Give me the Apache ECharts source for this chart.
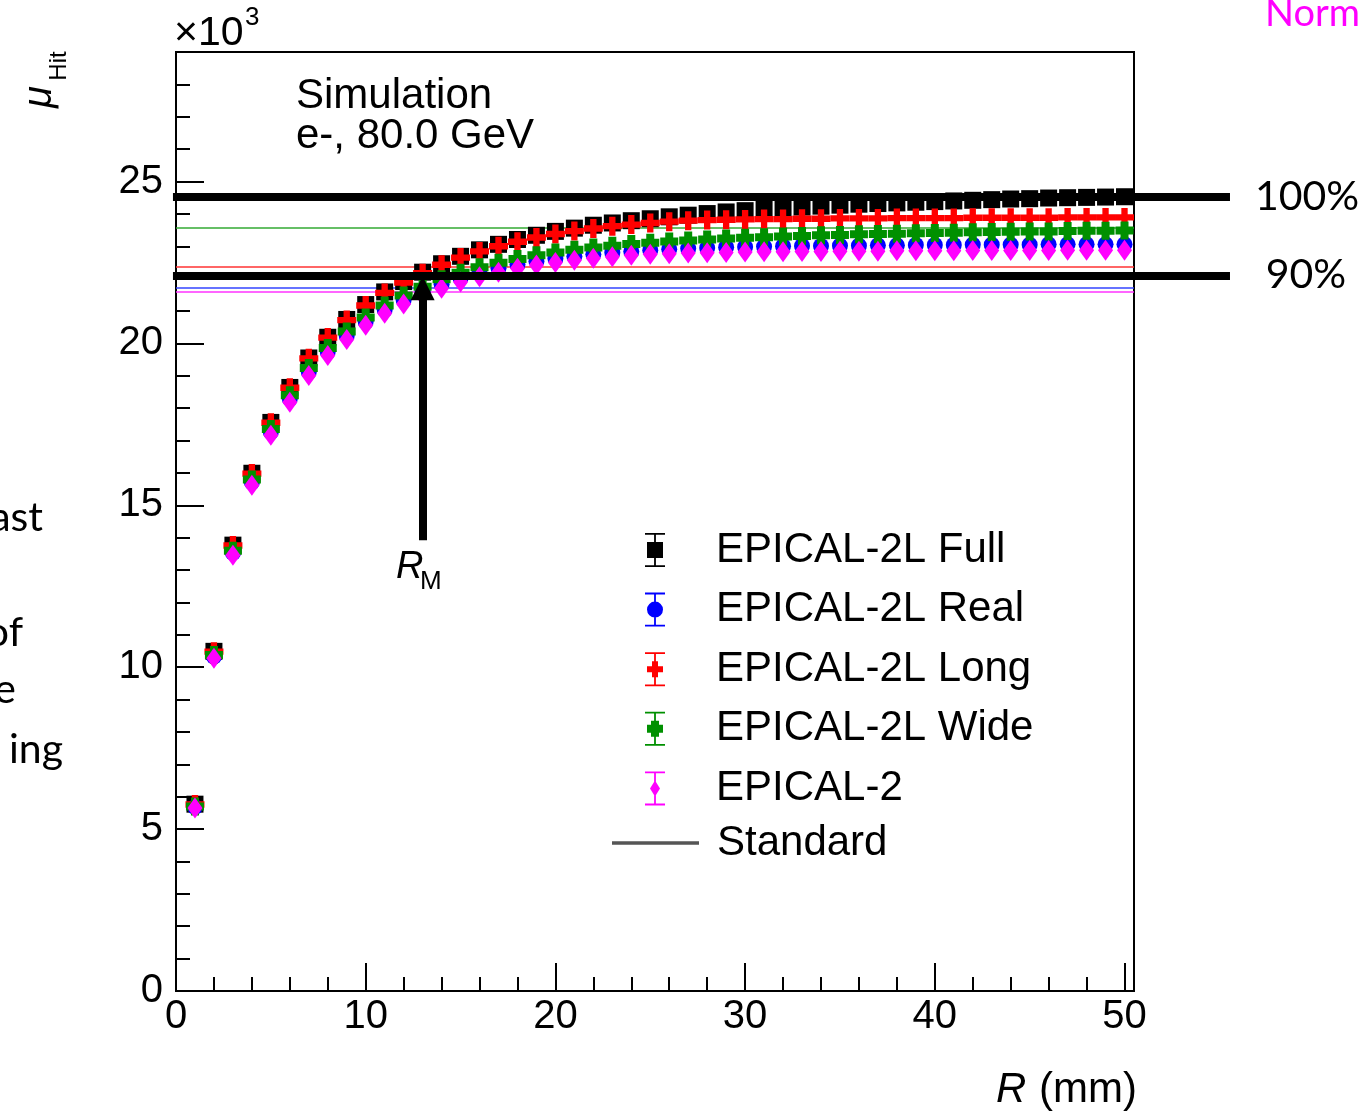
<!DOCTYPE html>
<html>
<head>
<meta charset="utf-8">
<title>mu Hit vs R</title>
<script src="https://cdn.jsdelivr.net/npm/echarts@6/dist/echarts.min.js"></script>
<style>
  html, body { margin: 0; background: #fff; }
  #main { width: 1366px; height: 1112px; }
</style>
</head>
<body>
<div id="main"></div>
<script>
var R = [1, 2, 3, 4, 5, 6, 7, 8, 9, 10, 11, 12, 13, 14, 15, 16, 17, 18, 19, 20,
         21, 22, 23, 24, 25, 26, 27, 28, 29, 30, 31, 32, 33, 34, 35, 36, 37, 38, 39, 40,
         41, 42, 43, 44, 45, 46, 47, 48, 49, 50];

// mu_Hit in units of 10^3
var full = [5.77, 10.49, 13.77, 15.99, 17.56, 18.64, 19.55, 20.19, 20.74, 21.20,
            21.59, 21.91, 22.20, 22.46, 22.69, 22.89, 23.06, 23.21, 23.34, 23.46,
            23.56, 23.65, 23.72, 23.79, 23.85, 23.91, 23.96, 24.01, 24.06, 24.10,
            24.14, 24.18, 24.21, 24.24, 24.27, 24.30, 24.32, 24.34, 24.36, 24.38,
            24.40, 24.42, 24.44, 24.46, 24.47, 24.49, 24.50, 24.51, 24.52, 24.53];
var real = [5.68, 10.33, 13.53, 15.71, 17.26, 18.29, 19.12, 19.74, 20.24, 20.67,
            21.04, 21.34, 21.60, 21.83, 22.02, 22.18, 22.32, 22.44, 22.54, 22.62,
            22.69, 22.75, 22.80, 22.84, 22.88, 22.91, 22.93, 22.95, 22.97, 22.98,
            22.99, 23.00, 23.01, 23.01, 23.02, 23.02, 23.03, 23.03, 23.04, 23.04,
            23.04, 23.05, 23.05, 23.05, 23.05, 23.06, 23.06, 23.06, 23.06, 23.06];
var long = [5.76, 10.48, 13.76, 15.98, 17.55, 18.63, 19.54, 20.18, 20.72, 21.17,
            21.56, 21.88, 22.17, 22.43, 22.65, 22.84, 23.00, 23.14, 23.27, 23.38,
            23.47, 23.55, 23.62, 23.67, 23.72, 23.76, 23.79, 23.81, 23.82, 23.83,
            23.84, 23.84, 23.85, 23.85, 23.86, 23.86, 23.86, 23.87, 23.87, 23.87,
            23.87, 23.88, 23.88, 23.88, 23.88, 23.88, 23.89, 23.89, 23.89, 23.89];
var wide = [5.70, 10.38, 13.60, 15.80, 17.36, 18.40, 19.24, 19.86, 20.37, 20.80,
            21.17, 21.48, 21.75, 21.98, 22.18, 22.35, 22.49, 22.61, 22.72, 22.81,
            22.89, 22.96, 23.02, 23.07, 23.11, 23.15, 23.18, 23.21, 23.24, 23.26,
            23.28, 23.30, 23.32, 23.34, 23.35, 23.37, 23.38, 23.39, 23.40, 23.41,
            23.42, 23.43, 23.44, 23.45, 23.46, 23.46, 23.47, 23.48, 23.48, 23.49];
var epical2 = [5.65, 10.28, 13.46, 15.62, 17.16, 18.18, 19.01, 19.63, 20.12, 20.56,
               20.93, 21.22, 21.47, 21.70, 21.90, 22.06, 22.20, 22.32, 22.42, 22.50,
               22.57, 22.63, 22.68, 22.72, 22.75, 22.77, 22.79, 22.80, 22.81, 22.82,
               22.83, 22.83, 22.84, 22.84, 22.85, 22.85, 22.85, 22.86, 22.86, 22.86,
               22.86, 22.87, 22.87, 22.87, 22.87, 22.87, 22.88, 22.88, 22.88, 22.88];

// thin "Standard" levels: Wide, Long, Real, EPICAL-2
var standardLevels = [23.56, 22.38, 21.73, 21.61];
var standardColors = ['#33aa33', '#ff3333', '#3344ff', '#ff33ff'];
// thick 100% / 90% levels
var refLevels = [24.52, 22.08];
var refLabels = ['100%', '90%'];
// Moliere radius arrow
var rM = 13;
var rMArrow = [13.92, 21.70];

var FONT = 'Liberation Sans, Arial, sans-serif';
var SLIDE = 'Lato, sans-serif';

var myChart = echarts.init(document.getElementById('main'));

function pts(vals) {
    return R.map(function (r, i) { return [r, vals[i]]; });
}

// legend icons: marker with error bar, drawn in a 20x34 box
var bar = 'M0,0H20V1.8H0Z M0,32.2H20V34H0Z M9.1,0H10.9V34H9.1Z ';
var icons = {
    full: 'path://' + bar + 'M2,9H18V25H2Z',
    real: 'path://' + bar + 'M2,17A8,8 0 1,1 18,17A8,8 0 1,1 2,17Z',
    long: 'path://' + bar + 'M7,9H13V14H18V20H13V25H7V20H2V14H7Z',
    wide: 'path://' + bar + 'M6,9H14V13H18V21H14V25H6V21H2V13H6Z',
    epi: 'path://' + bar + 'M10,9L15,17L10,25L5,17Z'
};

var scatterDefs = [
    { name: 'EPICAL-2L Full', data: full, color: '#000000', symbol: 'rect', size: 17 },
    { name: 'EPICAL-2L Real', data: real, color: '#0000ff', symbol: 'circle', size: 16 },
    { name: 'EPICAL-2L Long', data: long, color: '#ff0000',
      symbol: 'path://M6,0H12V6H18V12H12V18H6V12H0V6H6Z', size: 19 },
    { name: 'EPICAL-2L Wide', data: wide, color: '#009000',
      symbol: 'path://M5,0H13V5H18V13H13V18H5V13H0V5H5Z', size: 18 },
    { name: 'EPICAL-2', data: epical2, color: '#ff00ff', symbol: 'diamond', size: [15, 21] }
];

var series = [];

series.push({
    name: 'Standard',
    type: 'lines',
    coordinateSystem: 'cartesian2d',
    silent: true,
    z: 1,
    itemStyle: { color: '#555' },
    lineStyle: { width: 1.5, opacity: 1, color: '#555' },
    data: standardLevels.map(function (v, i) {
        return { coords: [[0, v], [50.5, v]], lineStyle: { color: standardColors[i] } };
    })
});

scatterDefs.forEach(function (d) {
    series.push({
        name: d.name,
        type: 'scatter',
        symbol: d.symbol,
        symbolSize: d.size,
        itemStyle: { color: d.color, opacity: 1 },
        data: pts(d.data),
        z: 2
    });
});

series.push({
    name: 'levels',
    type: 'lines',
    coordinateSystem: 'cartesian2d',
    clip: false,
    silent: true,
    z: 5,
    lineStyle: { color: '#000', width: 8, opacity: 1 },
    data: refLevels.map(function (v) {
        return { coords: [[-0.16, v], [55.56, v]] };
    })
});

series.push({
    name: 'RM',
    type: 'lines',
    coordinateSystem: 'cartesian2d',
    clip: false,
    silent: true,
    z: 6,
    symbol: ['none', 'triangle'],
    symbolSize: 24,
    lineStyle: { color: '#000', width: 8, opacity: 1 },
    data: [{ coords: [[rM, rMArrow[0]], [rM, rMArrow[1]]] }]
});

var tickStyle = { color: '#000', width: 2 };

var option = {
    animation: false,
    backgroundColor: '#fff',
    grid: {
        left: 176,
        right: 232,
        top: 52,
        bottom: 121,
        show: true,
        borderColor: '#000',
        borderWidth: 2,
        backgroundColor: 'transparent',
        outerBoundsMode: 'none'
    },
    xAxis: [{
        type: 'value',
        min: 0,
        max: 50.5,
        interval: 10,
        position: 'bottom',
        axisLine: { lineStyle: tickStyle },
        axisTick: { inside: true, length: 28, lineStyle: tickStyle },
        splitLine: { show: false },
        axisLabel: { showMaxLabel: false, color: '#000', fontSize: 40, fontFamily: FONT, margin: 6 }
    }, {
        type: 'value',
        min: 0,
        max: 50.5,
        interval: 2,
        position: 'bottom',
        axisLine: { show: false },
        axisTick: { inside: true, length: 14, lineStyle: tickStyle },
        splitLine: { show: false },
        axisLabel: { show: false }
    }],
    yAxis: [{
        type: 'value',
        min: 0,
        max: 29,
        interval: 5,
        position: 'left',
        axisLine: { show: true, lineStyle: tickStyle },
        axisTick: { inside: true, length: 28, lineStyle: tickStyle },
        splitLine: { show: false },
        axisLabel: { showMaxLabel: false, color: '#000', fontSize: 40, fontFamily: FONT, margin: 13 }
    }, {
        type: 'value',
        min: 0,
        max: 29,
        interval: 1,
        position: 'left',
        axisLine: { show: false },
        axisTick: { inside: true, length: 14, lineStyle: tickStyle },
        splitLine: { show: false },
        axisLabel: { show: false }
    }],
    legend: [{
        orient: 'vertical',
        left: 645,
        top: 529,
        padding: 0,
        itemWidth: 20,
        itemHeight: 34,
        itemGap: 17.6,
        selectedMode: false,
        textStyle: { color: '#000', fontSize: 42, fontFamily: FONT, lineHeight: 34, padding: [0, 0, 0, 46] },
        data: [
            { name: 'EPICAL-2L Full', icon: icons.full },
            { name: 'EPICAL-2L Real', icon: icons.real },
            { name: 'EPICAL-2L Long', icon: icons.long },
            { name: 'EPICAL-2L Wide', icon: icons.wide },
            { name: 'EPICAL-2', icon: icons.epi }
        ]
    }, {
        orient: 'vertical',
        left: 612,
        top: 822,
        padding: 0,
        itemWidth: 85,
        itemHeight: 1.5,
        selectedMode: false,
        textStyle: { color: '#000', fontSize: 42, fontFamily: FONT, lineHeight: 34, padding: [0, 0, 0, 14] },
        data: [{ name: 'Standard', icon: 'rect', itemStyle: { color: '#555' } }]
    }],
    graphic: [
        { type: 'text', x: 174, y: 34, style: { text: '×10', font: '41px ' + FONT, fill: '#000', align: 'left', verticalAlign: 'middle' } },
        { type: 'text', x: 245, y: 18, style: { text: '3', font: '26px ' + FONT, fill: '#000', align: 'left', verticalAlign: 'middle' } },
        { type: 'text', x: 40, y: 97, rotation: Math.PI / 2, style: { text: 'μ', font: 'italic 40px ' + FONT, fill: '#000', align: 'center', verticalAlign: 'middle' } },
        { type: 'text', x: 59, y: 66, rotation: Math.PI / 2, style: { text: 'Hit', font: '24px ' + FONT, fill: '#000', align: 'center', verticalAlign: 'middle' } },
        { type: 'text', x: 296, y: 96, style: { text: 'Simulation', font: '42px ' + FONT, fill: '#000', align: 'left', verticalAlign: 'middle' } },
        { type: 'text', x: 296, y: 136, style: { text: 'e-, 80.0 GeV', font: '42px ' + FONT, fill: '#000', align: 'left', verticalAlign: 'middle' } },
        { type: 'text', x: 396, y: 567, style: { text: 'R', font: 'italic 38px ' + FONT, fill: '#000', align: 'left', verticalAlign: 'middle' } },
        { type: 'text', x: 420, y: 582, style: { text: 'M', font: '26px ' + FONT, fill: '#000', align: 'left', verticalAlign: 'middle' } },
        { type: 'text', x: 996, y: 1090, style: { text: 'R', font: 'italic 42px ' + FONT, fill: '#000', align: 'left', verticalAlign: 'middle' } },
        { type: 'text', x: 1137, y: 1090, style: { text: '(mm)', font: '42px ' + FONT, fill: '#000', align: 'right', verticalAlign: 'middle' } },
        { type: 'text', x: 1307, y: 197, style: { text: refLabels[0], font: '41px ' + SLIDE, fill: '#000', align: 'center', verticalAlign: 'middle' } },
        { type: 'text', x: 1306, y: 275, style: { text: refLabels[1], font: '41px ' + SLIDE, fill: '#000', align: 'center', verticalAlign: 'middle' } },
        { type: 'text', x: 1265, y: 14, style: { text: 'Norm', font: '38px ' + SLIDE, fill: '#ff00ff', align: 'left', verticalAlign: 'middle' } },
        { type: 'text', x: 43, y: 518, style: { text: 'ast', font: '41px ' + SLIDE, fill: '#000', align: 'right', verticalAlign: 'middle' } },
        { type: 'text', x: 23, y: 633, style: { text: 'of', font: '41px ' + SLIDE, fill: '#000', align: 'right', verticalAlign: 'middle' } },
        { type: 'text', x: 16, y: 690, style: { text: 'e', font: '41px ' + SLIDE, fill: '#000', align: 'right', verticalAlign: 'middle' } },
        { type: 'text', x: 63, y: 750, style: { text: 'ing', font: '41px ' + SLIDE, fill: '#000', align: 'right', verticalAlign: 'middle' } }
    ],
    series: series
};

myChart.setOption(option);
</script>
</body>
</html>
